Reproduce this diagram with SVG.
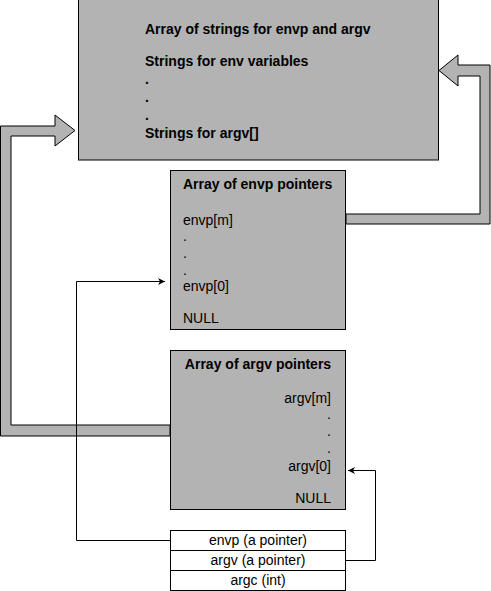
<svg xmlns="http://www.w3.org/2000/svg" width="491" height="591" viewBox="0 0 491 591">
<style>
.box{fill:#b3b3b3;stroke:#000;stroke-width:1}
.cell{fill:#fff;stroke:#000;stroke-width:1}
.barrow{fill:#b3b3b3;stroke:#000;stroke-width:1;stroke-linejoin:miter}
.line{fill:none;stroke:#000;stroke-width:1}
text{font-family:"Liberation Sans",Arial,sans-serif;font-size:14px;fill:#000}
.b{font-weight:bold}
.m{text-anchor:middle}
.e{text-anchor:end}
</style>
<defs>
<marker id="ah" markerWidth="8" markerHeight="8" refX="7" refY="4" orient="auto" markerUnits="userSpaceOnUse">
<path d="M0,0.5 L7,4 L0,7.5 L2,4 Z" fill="#000"/>
</marker>
</defs>
<g id="connectors">
<path class="barrow" d="M346,214 L480,214 L480,76 L458,76 L458,86 L439,70.5 L458,55 L458,65 L490,65 L490,224 L346,224 Z"/>
<path class="barrow" d="M170,425 L11,425 L11,136 L55,136 L55,146 L75,130.5 L55,115 L55,126 L0.5,126 L0.5,436 L170,436 Z"/>
<path class="line" d="M170,540.5 L76.5,540.5 L76.5,281.5 L165,281.5" marker-end="url(#ah)"/>
<path class="line" d="M345,560.5 L375.5,560.5 L375.5,470.5 L348,470.5" marker-end="url(#ah)"/>
</g>
<g id="strings">
<rect class="box" x="78.5" y="-0.5" width="360" height="160.5"/>
<text class="b" x="145" y="34">Array of strings for envp and argv</text>
<text class="b" x="145" y="66">Strings for env variables</text>
<text class="b" x="145" y="84">.</text>
<text class="b" x="145" y="102">.</text>
<text class="b" x="145" y="120">.</text>
<text class="b" x="145" y="138">Strings for argv[]</text>
</g>
<g id="envp">
<rect class="box" x="170.5" y="170.5" width="175" height="159"/>
<text class="b" x="183" y="189">Array of envp pointers</text>
<text x="183" y="225">envp[m]</text>
<text x="183" y="241">.</text>
<text x="183" y="258">.</text>
<text x="183" y="275">.</text>
<text x="183" y="291">envp[0]</text>
<text x="183" y="323">NULL</text>
</g>
<g id="argv">
<rect class="box" x="170.5" y="350.5" width="175" height="159"/>
<text class="b m" x="258" y="369">Array of argv pointers</text>
<text class="e" x="331" y="403">argv[m]</text>
<text class="e" x="331" y="419">.</text>
<text class="e" x="331" y="436">.</text>
<text class="e" x="331" y="453">.</text>
<text class="e" x="331" y="471">argv[0]</text>
<text class="e" x="331" y="503">NULL</text>
</g>
<g id="stack">
<rect class="cell" x="170.5" y="530.5" width="175" height="20"/>
<rect class="cell" x="170.5" y="550.5" width="175" height="20"/>
<rect class="cell" x="170.5" y="570.5" width="175" height="20"/>
<text class="m" x="258" y="545">envp (a pointer)</text>
<text class="m" x="258" y="565">argv (a pointer)</text>
<text class="m" x="258" y="585">argc (int)</text>
</g>
</svg>
